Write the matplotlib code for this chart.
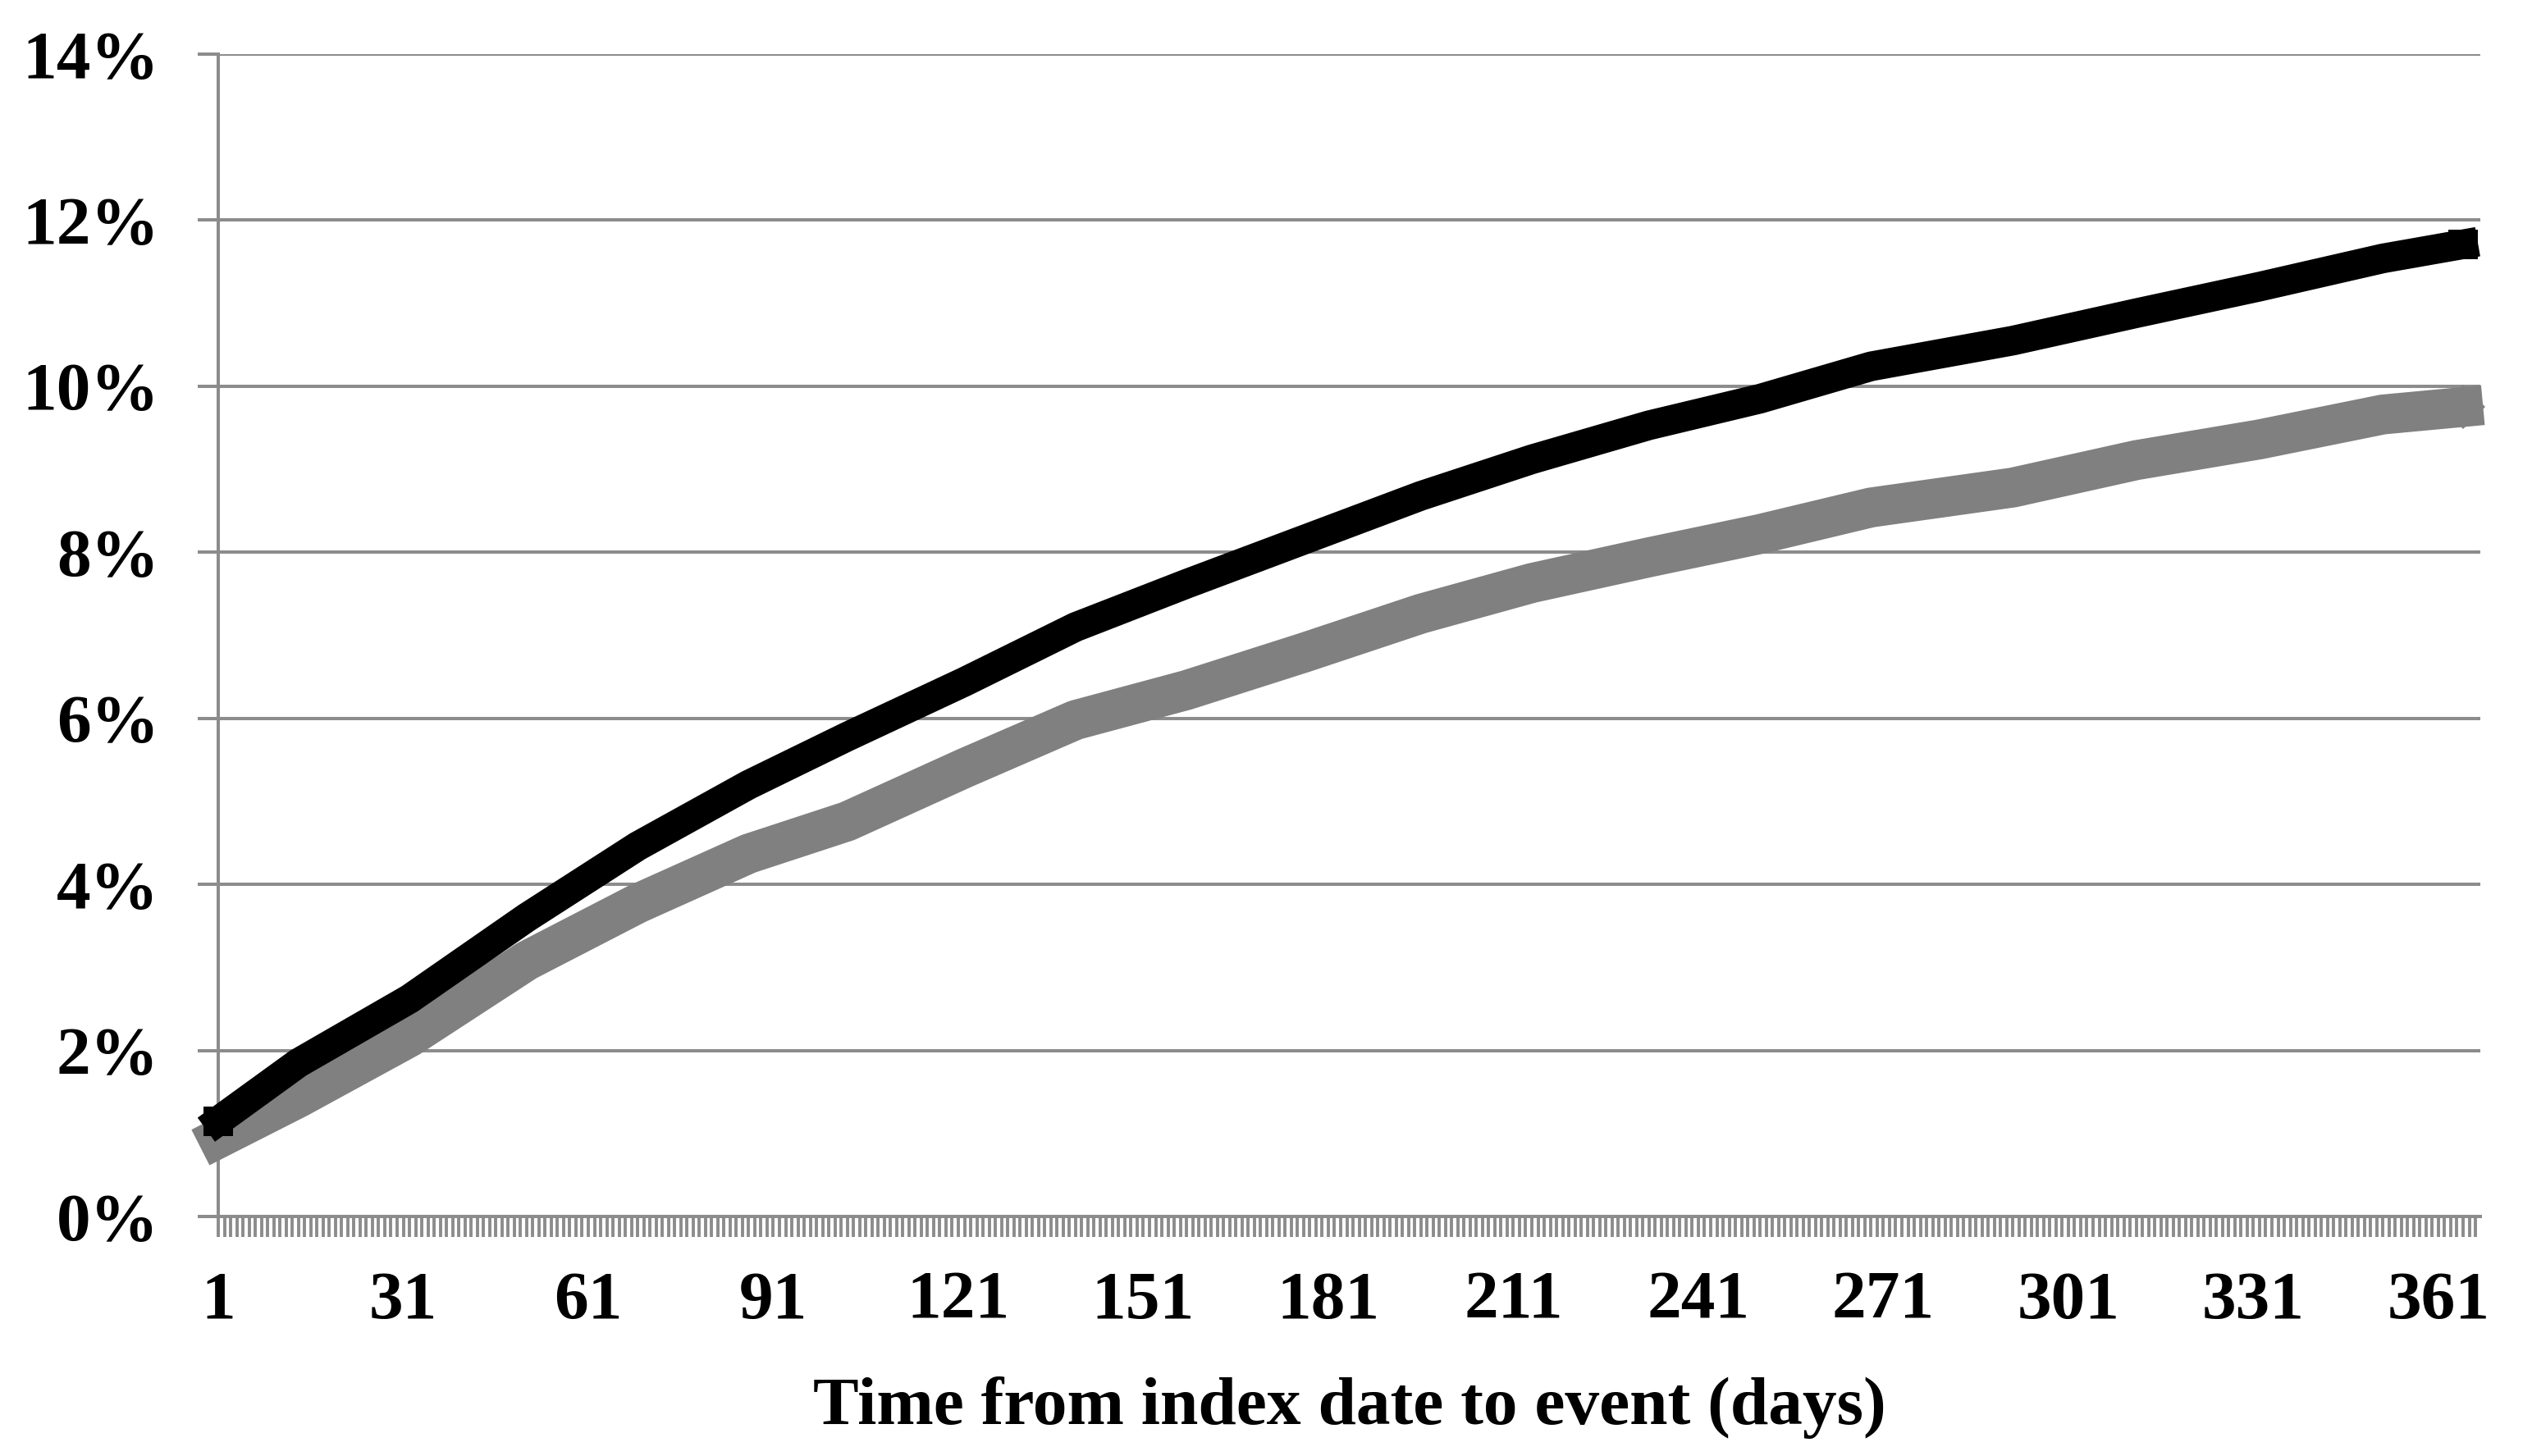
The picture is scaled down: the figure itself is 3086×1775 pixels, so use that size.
import numpy as np
import matplotlib
matplotlib.use("Agg")
import matplotlib.pyplot as plt

plt.rcParams['font.family'] = ['Liberation Serif', 'DejaVu Serif']
plt.rcParams['font.weight'] = 'bold'

# values (day, cumulative %)
days = [1, 14, 32, 51, 69, 87, 103, 122, 140, 158, 177, 196, 214,
        233, 251, 269, 292, 312, 332, 352, 365]
black_pct = [1.15, 1.85, 2.62, 3.60, 4.46, 5.20, 5.78, 6.44, 7.10, 7.62, 8.15,
             8.68, 9.12, 9.53, 9.85, 10.24, 10.55, 10.88, 11.20, 11.54, 11.71]
gray_pct = [0.94, 1.43, 2.16, 3.08, 3.77, 4.37, 4.76, 5.40, 5.98, 6.34, 6.79,
            7.26, 7.63, 7.94, 8.22, 8.54, 8.78, 9.11, 9.36, 9.66, 9.75]

y_ticks = [0, 2, 4, 6, 8, 10, 12, 14]
y_labels = ['0%', '2%', '4%', '6%', '8%', '10%', '12%', '14%']
n_categories = 367
x_label_days = [1, 31, 61, 91, 121, 151, 181, 211, 241, 271, 301, 331, 361]

grid_col = '#8c8c8c'
fs = 60

fig = plt.figure(figsize=(30.86, 17.75), dpi=100)
ax = fig.add_axes([0.0862, 0.1645, 0.8934, 0.7983])

ax.plot(days, gray_pct, color='#808080', lw=35, solid_joinstyle='round',
        marker='D', markersize=27, mew=0, markevery=[0, len(days) - 1],
        clip_on=False, zorder=3)
ax.plot(days, black_pct, color='black', lw=26, solid_joinstyle='round',
        marker='s', markersize=26, mew=0, markevery=[0, len(days) - 1],
        clip_on=False, zorder=4)

ax.set_ylim(0, 14)
ax.set_xlim(1, 367.8)
ax.set_yticks(y_ticks)
ax.set_yticklabels(y_labels, fontsize=fs, fontweight='bold')

xt = list(range(1, n_categories + 1))
ax.set_xticks(xt)
ax.set_xticklabels([str(d) if d in x_label_days else '' for d in xt],
                   fontsize=fs, fontweight='bold')

ax.yaxis.grid(True, color=grid_col, lw=2.9)
ax.set_axisbelow(True)
for s in ['top', 'right']:
    ax.spines[s].set_visible(False)
for s in ['left', 'bottom']:
    ax.spines[s].set_color(grid_col)
    ax.spines[s].set_linewidth(2.9)

ax.tick_params(axis='y', direction='out', length=18, width=2.9,
               color=grid_col, pad=34)
ax.tick_params(axis='x', direction='out', length=18, width=2.8,
               color=grid_col, pad=30)

ax.set_xlabel('Time from index date to event (days)', fontsize=fs,
              fontweight='bold', labelpad=38)

fig.savefig('out.png', dpi=100)
